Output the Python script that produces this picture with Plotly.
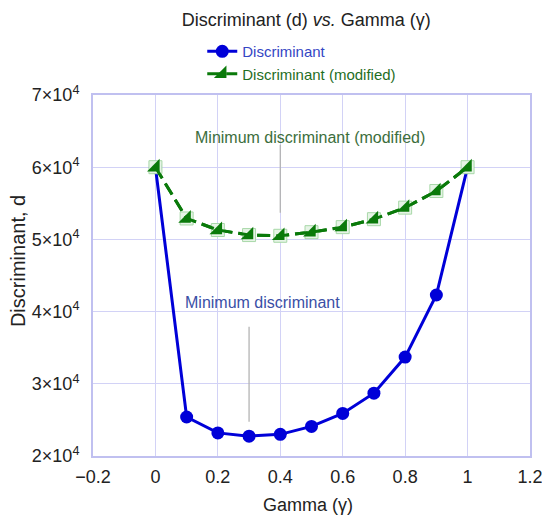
import plotly.graph_objects as go

gamma = [0.0, 0.1, 0.2, 0.3, 0.4, 0.5, 0.6, 0.7, 0.8, 0.9, 1.0]
disc = [60000, 25400, 23200, 22750, 23000, 24100, 25900, 28700, 33700, 42300, 60000]
disc_mod = [60000, 52900, 51300, 50600, 50500, 51000, 51700, 52800, 54400, 56700, 60000]

y_tickvals = [20000, 30000, 40000, 50000, 60000, 70000]
y_ticktext = ["2×10<sup>4</sup>", "3×10<sup>4</sup>", "4×10<sup>4</sup>",
              "5×10<sup>4</sup>", "6×10<sup>4</sup>", "7×10<sup>4</sup>"]
x_tickvals = [-0.2, 0, 0.2, 0.4, 0.6, 0.8, 1.0, 1.2]
x_ticktext = ["−0.2", "0", "0.2", "0.4", "0.6", "0.8", "1", "1.2"]

blue = "#0000d8"
green = "#0a7a0a"
grid = "#d2d2f6"
frame = "#c0c0f0"
FONT = "Liberation Sans, Arial, sans-serif"

fig = go.Figure()

# annotation leader lines
fig.add_trace(go.Scatter(x=[0.4, 0.4], y=[63100, 53700], mode="lines",
                         line=dict(color="#b4b4b4", width=1.3), showlegend=False, hoverinfo="skip"))
fig.add_trace(go.Scatter(x=[0.3, 0.3], y=[37900, 24750], mode="lines",
                         line=dict(color="#b4b4b4", width=1.3), showlegend=False, hoverinfo="skip"))

fig.add_trace(go.Scatter(
    x=gamma, y=disc, mode="lines+markers",
    name="<span style='color:#3446c4'>Discriminant</span>",
    line=dict(color=blue, width=3),
    marker=dict(symbol="circle", size=13, color=blue),
))

# square background of modified markers
fig.add_trace(go.Scatter(
    x=gamma, y=disc_mod, mode="lines",
    line=dict(color=green, width=3, dash="13px,6px"),
    showlegend=False, hoverinfo="skip",
))
fig.add_trace(go.Scatter(
    x=gamma, y=disc_mod, mode="markers",
    marker=dict(symbol="square", size=13, color="#e6f4e6",
                line=dict(color="#a8d8a8", width=1)),
    showlegend=False, hoverinfo="skip",
))
fig.add_trace(go.Scatter(
    x=gamma, y=disc_mod, mode="lines+markers",
    name="<span style='color:#1f6e1f'>Discriminant (modified)</span>",
    line=dict(color=green, width=3, dash="13px,6px"),
    marker=dict(symbol="triangle-se", size=14, color=green, line=dict(width=0)),
))

fig.add_annotation(x=0.495, y=64180, text="Minimum discriminant (modified)", showarrow=False,
                   font=dict(family=FONT, size=16, color="#3c6e3c"))
fig.add_annotation(x=0.343, y=41330, text="Minimum discriminant", showarrow=False,
                   font=dict(family=FONT, size=16, color="#3a4fa6"))

# axis titles as annotations (positioned like the reference)
fig.add_annotation(xref="paper", yref="paper", x=0.491, y=-0.1357, text="Gamma (γ)",
                   showarrow=False, xanchor="center", yanchor="middle",
                   font=dict(family=FONT, size=18, color="#222222"))
fig.add_annotation(xref="paper", yref="paper", x=-0.1716, y=0.540, text="Discriminant, d",
                   showarrow=False, xanchor="center", yanchor="middle", textangle=-90,
                   font=dict(family=FONT, size=20, color="#222222"))

fig.update_layout(
    width=542, height=519,
    margin=dict(l=93, r=12, t=95, b=63, autoexpand=False),
    paper_bgcolor="white", plot_bgcolor="white",
    font=dict(family=FONT, size=15, color="#222222"),
    title=dict(text="Discriminant (d) <i>vs.</i> Gamma (γ)", x=0.565, xanchor="center",
               y=0.963, yanchor="middle", font=dict(size=18, color="#222222")),
    legend=dict(x=0.25, y=1.166, xanchor="left", yanchor="top", bgcolor="rgba(0,0,0,0)",
                font=dict(size=15), tracegroupgap=0, itemwidth=30),
    xaxis=dict(range=[-0.2, 1.2], tickvals=x_tickvals, ticktext=x_ticktext,
               showgrid=True, gridcolor=grid, gridwidth=1, zeroline=False,
               showline=True, linecolor=frame, linewidth=2, mirror=True, automargin=False,
               ticks="", ticklabelstandoff=3, ticklabeloverflow="allow",
               tickfont=dict(size=18)),
    yaxis=dict(range=[20000, 70000], tickvals=y_tickvals, ticktext=y_ticktext,
               showgrid=True, gridcolor=grid, gridwidth=1, zeroline=False,
               showline=True, linecolor=frame, linewidth=2, mirror=True, automargin=False,
               ticks="", ticklabelstandoff=8, ticklabeloverflow="allow",
               tickfont=dict(size=18)),
)

fig.write_html("out.html", post_script="document.body.style.margin='0px';",
               config={"displayModeBar": False})
